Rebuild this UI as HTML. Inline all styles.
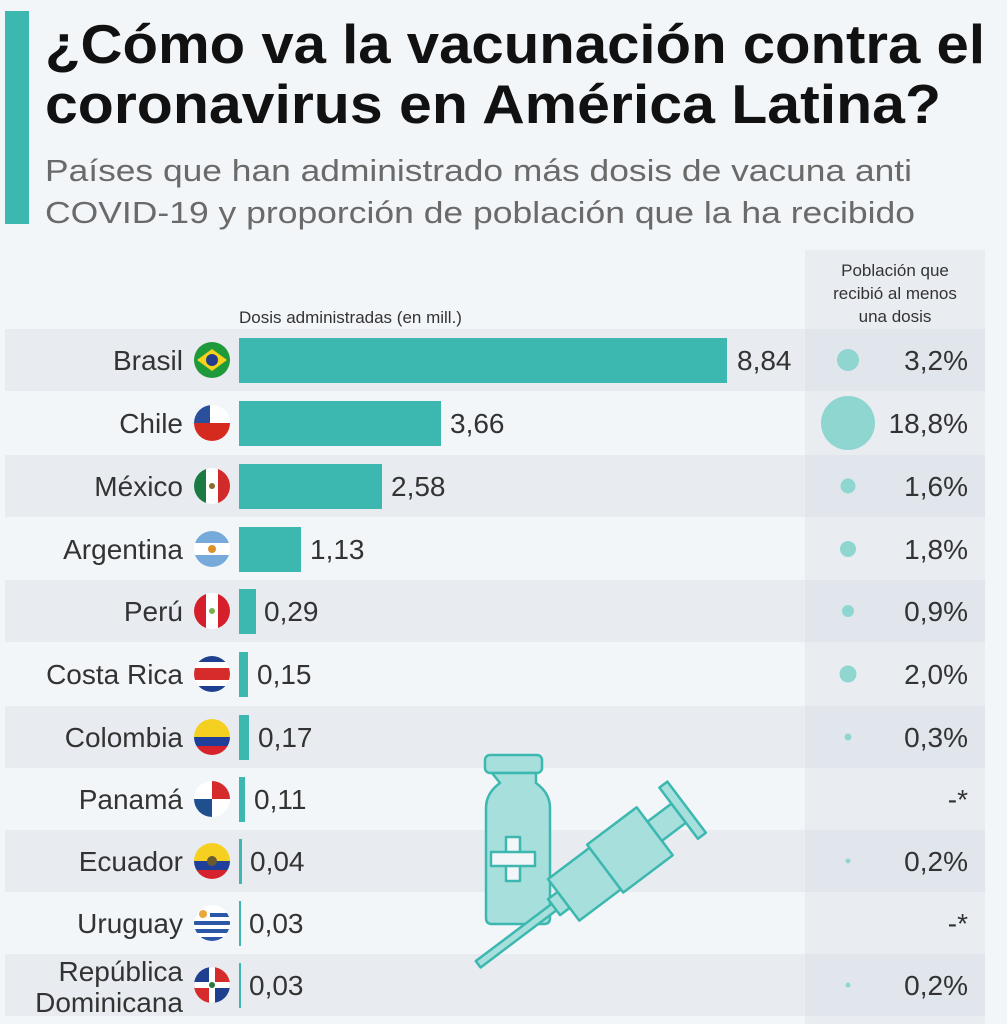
<!DOCTYPE html>
<html><head><meta charset="utf-8"><style>
html,body{margin:0;padding:0;background:#f3f6f9;}
svg{display:block;font-family:"Liberation Sans",sans-serif;}
</style></head><body>
<svg width="1007" height="1024" viewBox="0 0 1007 1024" xmlns="http://www.w3.org/2000/svg">
<defs>
<clipPath id="c"><circle cx="0" cy="0" r="18"/></clipPath>
</defs>
<rect width="1007" height="1024" fill="#f3f6f9"/>
<rect x="5" y="11" width="24" height="213" fill="#3cb8b0"/>
<text x="45" y="63" font-size="55" font-weight="bold" fill="#111" textLength="940" lengthAdjust="spacingAndGlyphs">¿Cómo va la vacunación contra el</text>
<text x="45" y="123" font-size="55" font-weight="bold" fill="#111" textLength="896" lengthAdjust="spacingAndGlyphs">coronavirus en América Latina?</text>
<text x="45" y="181" font-size="31" fill="#6a6a6a" textLength="867" lengthAdjust="spacingAndGlyphs">Países que han administrado más dosis de vacuna anti</text>
<text x="45" y="223" font-size="31" fill="#6a6a6a" textLength="870" lengthAdjust="spacingAndGlyphs">COVID-19 y proporción de población que la ha recibido</text>

<g fill="#e8ecf1">
<rect x="5" y="329" width="800" height="62"/>
<rect x="5" y="455" width="800" height="62"/>
<rect x="5" y="580" width="800" height="62"/>
<rect x="5" y="706" width="800" height="62"/>
<rect x="5" y="830" width="800" height="62"/>
<rect x="5" y="954" width="800" height="62"/>
</g>
<rect x="805" y="250" width="180" height="774" fill="#e9edf2"/>
<g fill="#e1e6ec">
<rect x="805" y="329" width="180" height="62"/>
<rect x="805" y="455" width="180" height="62"/>
<rect x="805" y="580" width="180" height="62"/>
<rect x="805" y="706" width="180" height="62"/>
<rect x="805" y="830" width="180" height="62"/>
<rect x="805" y="954" width="180" height="62"/>
</g>

<text x="239" y="323" font-size="17" fill="#333">Dosis administradas (en mill.)</text>
<g font-size="17" fill="#333" text-anchor="middle">
<text x="895" y="276">Población que</text>
<text x="895" y="299">recibió al menos</text>
<text x="895" y="322">una dosis</text>
</g>

<g fill="#3cb8b0">
<rect x="239" y="338" width="488" height="45"/>
<rect x="239" y="401" width="202" height="45"/>
<rect x="239" y="464" width="143" height="45"/>
<rect x="239" y="527" width="62" height="45"/>
<rect x="239" y="589" width="17" height="45"/>
<rect x="239" y="652" width="9" height="45"/>
<rect x="239" y="715" width="10" height="45"/>
<rect x="239" y="777" width="6" height="45"/>
<rect x="239" y="839" width="3" height="45"/>
<rect x="239" y="901" width="2" height="45"/>
<rect x="239" y="963" width="2" height="45"/>
</g>
<g font-size="28" fill="#333">
<text x="737" y="370">8,84</text>
<text x="450" y="433">3,66</text>
<text x="391" y="496">2,58</text>
<text x="310" y="559">1,13</text>
<text x="264" y="621">0,29</text>
<text x="257" y="684">0,15</text>
<text x="258" y="747">0,17</text>
<text x="254" y="809">0,11</text>
<text x="250" y="871">0,04</text>
<text x="249" y="933">0,03</text>
<text x="249" y="995">0,03</text>
</g>
<g font-size="28" fill="#333" text-anchor="end">
<text x="183" y="370">Brasil</text>
<text x="183" y="433">Chile</text>
<text x="183" y="496">México</text>
<text x="183" y="559">Argentina</text>
<text x="183" y="621">Perú</text>
<text x="183" y="684">Costa Rica</text>
<text x="183" y="747">Colombia</text>
<text x="183" y="809">Panamá</text>
<text x="183" y="871">Ecuador</text>
<text x="183" y="933">Uruguay</text>
<text x="183" y="981">República</text>
<text x="183" y="1012">Dominicana</text>
</g>

<g transform="translate(212,360)" clip-path="url(#c)"><rect x="-18" y="-18" width="36" height="36" fill="#1f9a3a"/><polygon points="-15,0 0,-11 15,0 0,11" fill="#f6d31a"/><circle r="6" fill="#233d8c"/></g>
<g transform="translate(212,423)" clip-path="url(#c)"><rect x="-18" y="-18" width="36" height="36" fill="#fff"/><rect x="-18" y="0" width="36" height="18" fill="#d52b1e"/><rect x="-18" y="-18" width="16" height="18" fill="#2a4f9c"/></g>
<g transform="translate(212,486)" clip-path="url(#c)"><rect x="-18" y="-18" width="36" height="36" fill="#fff"/><rect x="-18" y="-18" width="12" height="36" fill="#1b7a43"/><rect x="6" y="-18" width="12" height="36" fill="#d02a2a"/><circle r="3" fill="#8b6a2b"/></g>
<g transform="translate(212,549)" clip-path="url(#c)"><rect x="-18" y="-18" width="36" height="36" fill="#fff"/><rect x="-18" y="-18" width="36" height="12" fill="#75aadb"/><rect x="-18" y="6" width="36" height="12" fill="#75aadb"/><circle r="4" fill="#e0902a"/></g>
<g transform="translate(212,611)" clip-path="url(#c)"><rect x="-18" y="-18" width="36" height="36" fill="#fff"/><rect x="-18" y="-18" width="12" height="36" fill="#d51f2a"/><rect x="6" y="-18" width="12" height="36" fill="#d51f2a"/><circle r="3" fill="#7ab04a"/></g>
<g transform="translate(212,674)" clip-path="url(#c)"><rect x="-18" y="-18" width="36" height="36" fill="#fff"/><rect x="-18" y="-18" width="36" height="6" fill="#1f3f8f"/><rect x="-18" y="12" width="36" height="6" fill="#1f3f8f"/><rect x="-18" y="-6" width="36" height="12" fill="#d52b2b"/></g>
<g transform="translate(212,737)" clip-path="url(#c)"><rect x="-18" y="-18" width="36" height="18" fill="#f5d020"/><rect x="-18" y="0" width="36" height="9" fill="#1f3f9a"/><rect x="-18" y="9" width="36" height="9" fill="#d6232b"/></g>
<g transform="translate(212,799)" clip-path="url(#c)"><rect x="-18" y="-18" width="36" height="36" fill="#fff"/><rect x="0" y="-18" width="18" height="18" fill="#d52b2b"/><rect x="-18" y="0" width="18" height="18" fill="#1f4f8f"/></g>
<g transform="translate(212,861)" clip-path="url(#c)"><rect x="-18" y="-18" width="36" height="18" fill="#f5d020"/><rect x="-18" y="0" width="36" height="9" fill="#1f3f9a"/><rect x="-18" y="9" width="36" height="9" fill="#d6232b"/><circle r="5" fill="#6a5a30"/></g>
<g transform="translate(212,923)" clip-path="url(#c)"><rect x="-18" y="-18" width="36" height="36" fill="#fff"/><g fill="#2a57a8"><rect x="-18" y="-10" width="36" height="4"/><rect x="-18" y="-2" width="36" height="4"/><rect x="-18" y="6" width="36" height="4"/><rect x="-18" y="14" width="36" height="4"/></g><rect x="-18" y="-18" width="16" height="16" fill="#fff"/><circle cx="-9" cy="-9" r="4" fill="#e8a83a"/></g>
<g transform="translate(212,985)" clip-path="url(#c)"><rect x="-18" y="-18" width="18" height="18" fill="#1f3f8f"/><rect x="0" y="0" width="18" height="18" fill="#1f3f8f"/><rect x="0" y="-18" width="18" height="18" fill="#d52b2b"/><rect x="-18" y="0" width="18" height="18" fill="#d52b2b"/><rect x="-3" y="-18" width="6" height="36" fill="#fff"/><rect x="-18" y="-3" width="36" height="6" fill="#fff"/><circle r="3" fill="#2a7a3a"/></g>

<g fill="#8fd6d0">
<circle cx="848" cy="360" r="11"/>
<circle cx="848" cy="423" r="27"/>
<circle cx="848" cy="486" r="7.5"/>
<circle cx="848" cy="549" r="8"/>
<circle cx="848" cy="611" r="6"/>
<circle cx="848" cy="674" r="8.5"/>
<circle cx="848" cy="737" r="3.5"/>
<circle cx="848" cy="861" r="2.5"/>
<circle cx="848" cy="985" r="2.5"/>
</g>
<g font-size="28" fill="#333" text-anchor="end">
<text x="968" y="370">3,2%</text>
<text x="968" y="433">18,8%</text>
<text x="968" y="496">1,6%</text>
<text x="968" y="559">1,8%</text>
<text x="968" y="621">0,9%</text>
<text x="968" y="684">2,0%</text>
<text x="968" y="747">0,3%</text>
<text x="968" y="809">-*</text>
<text x="968" y="871">0,2%</text>
<text x="968" y="933">-*</text>
<text x="968" y="995">0,2%</text>
</g>

<g stroke="#3cb8b0" stroke-width="2.5" fill="#a6dfdb" stroke-linejoin="round">
<rect x="485" y="755" width="57" height="18" rx="5"/>
<path d="M492 773 h44 v10 q14 10 14 25 v110 q0 6 -6 6 h-52 q-6 0 -6 -6 v-110 q0 -15 14 -25 z"/>
<g fill="#f3f6f9"><rect x="506" y="837" width="14" height="44"/><rect x="491" y="852" width="44" height="14"/></g>
<g transform="translate(590,880) rotate(-37)">
<rect x="-140" y="-4" width="100" height="8"/>
<rect x="-45" y="-10" width="12" height="20"/>
<rect x="-33" y="-26" width="52" height="52"/>
<rect x="19" y="-30" width="62" height="60"/>
<rect x="81" y="-12" width="30" height="24"/>
<rect x="111" y="-32" width="10" height="64"/>
</g>
</g>
</svg>
</body></html>
